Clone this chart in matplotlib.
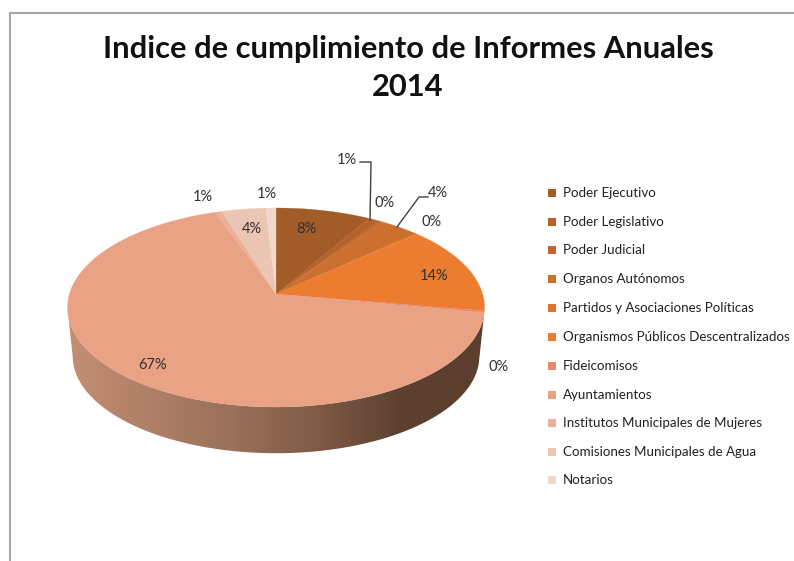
import numpy as np
import matplotlib
matplotlib.use("Agg")
import matplotlib.pyplot as plt
from matplotlib.colors import LinearSegmentedColormap
from matplotlib.patches import Polygon

plt.rcParams["font.family"] = ["Lato", "DejaVu Sans"]

# Data
categories = ["Poder Ejecutivo", "Poder Legislativo", "Poder Judicial", "Organos Autónomos",
              "Partidos y Asociaciones Políticas", "Organismos Públicos Descentralizados",
              "Fideicomisos", "Ayuntamientos", "Institutos Municipales de Mujeres",
              "Comisiones Municipales de Agua", "Notarios"]
values = [8.4, 1.0, 0.3, 3.5, 0.2, 14.3, 0.3, 66.6, 0.6, 3.9, 0.9]
pct_labels = ["8%", "1%", "0%", "4%", "0%", "14%", "0%", "67%", "1%", "4%", "1%"]

# Styles
colors = ["#A25C28", "#B5622A", "#C2642D", "#CC7030", "#E0752F", "#EC7C30",
          "#E88B6C", "#E9A283", "#E9B09A", "#EDC5B3", "#F2D8CC"]
label_pos = [(306, 229), (347, 160), (385, 203), (438, 193), (432, 222), (434, 276),
             (499, 367), (153, 365), (203, 197), (252, 229), (267, 194)]
legend_y = [193, 222, 250, 279, 308, 337, 366, 395, 423, 452, 480]
side_colors = ["#C48E73", "#AE7F66", "#99705A", "#7F5A46", "#5E4030", "#5C3E2E"]

fig = plt.figure(figsize=(7.94, 5.61), dpi=100)
ax = fig.add_axes([0, 0, 1, 1])

cx, cy = 276, 294
rx, ry, k = 206.6, 97.7, 0.1357
depth = 49


def project(theta, scale=1.0, shift=0):
    # theta is clockwise from the top of the pie, tilted with some perspective
    u, v = np.sin(theta), np.cos(theta)
    w = 1 + k * v
    return cx + scale * rx * u / w, cy + shift - scale * ry * v / w


# Side of the pie, only the front half shows
t = np.linspace(np.radians(100), np.radians(262), 200)
x1, y1 = project(t)
x2, y2 = project(t, 0.975, depth)
side = Polygon(np.column_stack([np.r_[x1, x2[::-1]], np.r_[y1, y2[::-1]]]),
               closed=True, fc="none", ec="none")
ax.add_patch(side)
cmap = LinearSegmentedColormap.from_list("side", side_colors)
im = ax.imshow(np.linspace(0, 1, 256).reshape(1, -1), cmap=cmap, aspect="auto",
               extent=(68, 485, 460, 300), zorder=1)
im.set_clip_path(side)

# Top of the pie
edges = np.r_[0, np.cumsum(values)] / np.sum(values) * 2 * np.pi
for i in range(len(values)):
    t = np.linspace(edges[i], edges[i + 1], 120)
    x, y = project(t)
    ax.fill(np.r_[cx, x], np.r_[cy, y], color=colors[i], lw=0.2, zorder=2)

# Leader lines
ax.plot([360, 371, 370], [162, 162, 220], color="#404040", lw=1, zorder=3)
ax.plot([428, 419, 397], [197, 197, 227], color="#404040", lw=1, zorder=3)

for lab, (lx, ly) in zip(pct_labels, label_pos):
    ax.text(lx, ly, lab, fontsize=10.5, ha="center", va="center", color="#303030", zorder=4)

# Legend
for name, col, ly in zip(categories, colors, legend_y):
    ax.scatter([552], [ly], marker="s", s=36, color=col, lw=0, zorder=3)
    ax.text(563, ly, name, fontsize=9.6, ha="left", va="center", color="#202020")

# Title
ax.text(408, 49, "Indice de cumplimiento de Informes Anuales", fontsize=22.2, fontweight="bold",
        ha="center", va="center", color="#111111")
ax.text(408, 87, "2014", fontsize=22.2, fontweight="bold", ha="center", va="center", color="#111111")

# Chart frame
ax.plot([10, 10, 794], [561, 13, 13], color="#A6A6A6", lw=1.5)

ax.set_xlim(0, 794)
ax.set_ylim(561, 0)
ax.axis("off")
fig.savefig("out.png", dpi=100)
